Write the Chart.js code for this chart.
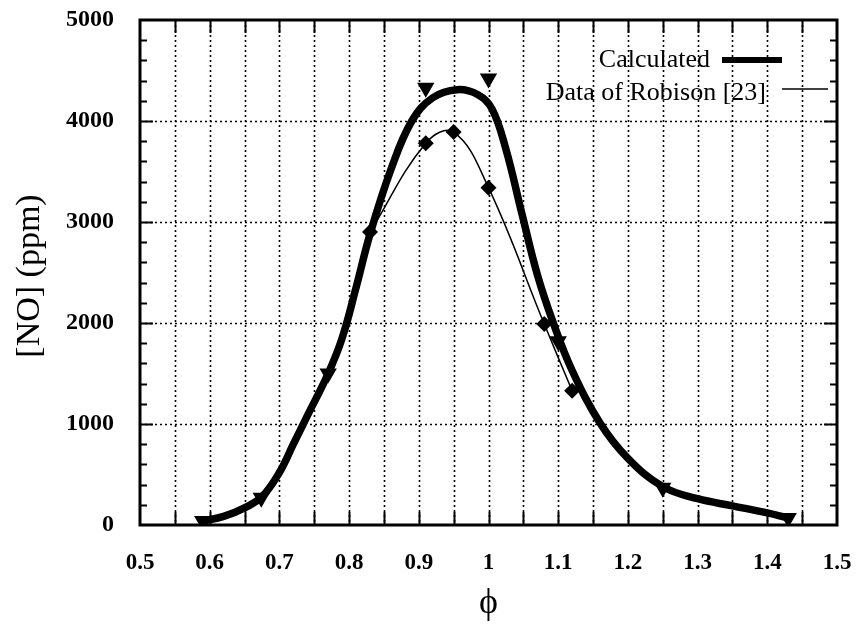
<!DOCTYPE html>
<html>
<head>
<meta charset="utf-8">
<script src="https://cdn.jsdelivr.net/npm/chart.js@4.4.1/dist/chart.umd.min.js"></script>
<style>
html,body{margin:0;padding:0;background:#fff;}
#wrap{width:859px;height:631px;}
</style>
</head>
<body>
<div id="wrap"><canvas id="c" width="859" height="631"></canvas></div>
<script>
// ---- data ----
const calcPhi = [0.59, 0.62, 0.65, 0.675, 0.70, 0.72, 0.74, 0.77, 0.79, 0.81, 0.83, 0.86, 0.89, 0.92, 0.955, 0.985, 1.005, 1.025, 1.048, 1.07, 1.093, 1.12, 1.16, 1.20, 1.25, 1.30, 1.35, 1.40, 1.43];
const calcNO  = [40, 85, 170, 280, 520, 800, 1080, 1500, 1850, 2350, 2880, 3520, 4000, 4230, 4310, 4260, 4120, 3720, 3080, 2480, 2000, 1530, 1010, 660, 380, 260, 190, 120, 70];

const robisonPhi = [0.83, 0.91, 0.95, 1.00, 1.08, 1.12];
const robisonNO  = [2900, 3780, 3890, 3340, 1990, 1330];

const triPhi = [0.59, 0.674, 0.77, 0.91, 1.00, 1.10, 1.25, 1.43];
const triNO  = [40, 270, 1500, 4330, 4420, 1820, 370, 70];

const xTickLabels = ['0.5','0.6','0.7','0.8','0.9','1','1.1','1.2','1.3','1.4','1.5'];
const yTickLabels = ['0','1000','2000','3000','4000','5000'];
const legendLabels = ['Calculated', 'Data of Robison [23]'];
const xTitle = '\u03D5';
const yTitle = '[NO] (ppm)';

const SERIF = '"Liberation Serif", "DejaVu Serif", serif';

const pts = (xs, ys) => xs.map((x, i) => ({x: x, y: ys[i]}));

const framePlugin = {
  id: 'frame',
  beforeDatasetsDraw(chart) {
    const {ctx, chartArea: a, scales: {x, y}} = chart;
    ctx.save();
    ctx.strokeStyle = '#000';
    ctx.lineWidth = 1.6;
    ctx.setLineDash([2, 3]);
    for (let i = 1; i < 20; i++) {
      const px = Math.round(x.getPixelForValue(0.5 + i * 0.05)) + 0.5;
      ctx.beginPath(); ctx.moveTo(px, a.top); ctx.lineTo(px, a.bottom); ctx.stroke();
    }
    for (let v = 1000; v < 5000; v += 1000) {
      const py = Math.round(y.getPixelForValue(v)) + 0.5;
      ctx.beginPath(); ctx.moveTo(a.left, py); ctx.lineTo(a.right, py); ctx.stroke();
    }
    ctx.setLineDash([]);
    ctx.lineWidth = 2;
    for (let i = 1; i < 20; i++) {
      const px = Math.round(x.getPixelForValue(0.5 + i * 0.05)) + 0.5;
      ctx.beginPath(); ctx.moveTo(px, a.bottom); ctx.lineTo(px, a.bottom - 13); ctx.stroke();
      ctx.beginPath(); ctx.moveTo(px, a.top); ctx.lineTo(px, a.top + 13); ctx.stroke();
    }
    for (let v = 200; v < 5000; v += 200) {
      const py = Math.round(y.getPixelForValue(v)) + 0.5;
      const len = (v % 1000 === 0) ? 13 : 7;
      ctx.beginPath(); ctx.moveTo(a.left, py); ctx.lineTo(a.left + len, py); ctx.stroke();
      ctx.beginPath(); ctx.moveTo(a.right, py); ctx.lineTo(a.right - len, py); ctx.stroke();
    }
    ctx.restore();
  },
  afterDraw(chart) {
    const {ctx, chartArea: a} = chart;
    ctx.save();
    ctx.strokeStyle = '#000';
    ctx.lineWidth = 3;
    ctx.strokeRect(a.left, a.top, a.right - a.left, a.bottom - a.top);
    ctx.fillStyle = '#000';
    ctx.font = '34px ' + SERIF;
    ctx.textAlign = 'center';
    ctx.textBaseline = 'middle';
    ctx.save();
    ctx.translate(30, 276);
    ctx.rotate(-Math.PI / 2);
    ctx.fillText(yTitle, 0, 0);
    ctx.restore();
    ctx.font = '36px ' + SERIF;
    ctx.fillText(xTitle, (a.left + a.right) / 2, 604);
    ctx.font = '26px ' + SERIF;
    ctx.textAlign = 'right';
    ctx.fillText(legendLabels[0], 710, 60);
    ctx.fillText(legendLabels[1], 766, 93);
    ctx.lineCap = 'butt';
    ctx.lineWidth = 6;
    ctx.beginPath(); ctx.moveTo(722, 60); ctx.lineTo(782, 60); ctx.stroke();
    ctx.lineWidth = 1.5;
    ctx.beginPath(); ctx.moveTo(782, 89); ctx.lineTo(828, 89); ctx.stroke();
    ctx.restore();
  }
};

const config = {
  type: 'scatter',
  data: {
    datasets: [
      {
        label: legendLabels[0],
        data: pts(calcPhi, calcNO),
        showLine: true,
        borderColor: '#000',
        borderWidth: 7.5,
        pointRadius: 0,
        tension: 0.4,
        borderCapStyle: 'round',
        borderJoinStyle: 'round'
      },
      {
        label: legendLabels[1],
        data: pts(robisonPhi, robisonNO),
        showLine: true,
        borderColor: '#000',
        borderWidth: 1.5,
        backgroundColor: '#000',
        pointStyle: 'rectRot',
        pointRadius: 8,
        pointBorderWidth: 0,
        tension: 0.4
      },
      {
        label: 'triangles',
        data: pts(triPhi, triNO),
        showLine: false,
        backgroundColor: '#000',
        borderColor: '#000',
        pointStyle: 'triangle',
        rotation: 180,
        pointRadius: 10,
        pointBorderWidth: 0
      }
    ]
  },
  options: {
    responsive: false,
    animation: false,
    devicePixelRatio: 1,
    layout: {padding: {top: 20, right: 22, left: 0, bottom: 0}},
    plugins: {legend: {display: false}, tooltip: {enabled: false}},
    scales: {
      x: {
        type: 'linear', min: 0.5, max: 1.5,
        grid: {display: false, drawTicks: false},
        border: {display: false},
        afterFit(s) { s.height = 106; s.paddingLeft = 0; s.paddingRight = 0; },
        ticks: {
          stepSize: 0.1, autoSkip: false, maxRotation: 0, padding: 24,
          color: '#000',
          font: {family: SERIF, size: 23, weight: 'bold'},
          callback: (v, i) => xTickLabels[i]
        }
      },
      y: {
        type: 'linear', min: 0, max: 5000,
        grid: {display: false, drawTicks: false},
        border: {display: false},
        afterFit(s) { s.width = 140; s.paddingTop = 0; s.paddingBottom = 0; },
        ticks: {
          stepSize: 1000, padding: 26,
          color: '#000',
          font: {family: SERIF, size: 24, weight: 'bold'},
          callback: (v, i) => yTickLabels[i]
        }
      }
    }
  },
  plugins: [framePlugin]
};

const chart = new Chart(document.getElementById('c'), config);
</script>
</body>
</html>
